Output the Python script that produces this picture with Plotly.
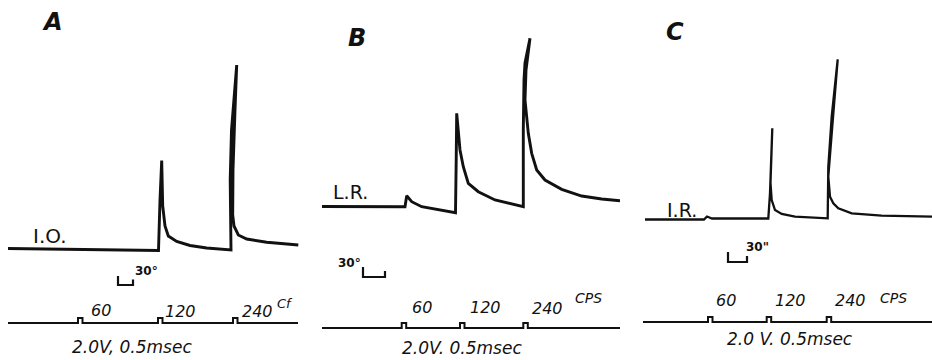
import plotly.graph_objects as go
from plotly.subplots import make_subplots

# ---------------- data (time in panel units, response relative to resting level) -------------
A_time = [8, 80, 158.5, 160, 161.7, 162.7, 165, 168.3, 176.7, 190, 206.7, 231, 230.2, 231.5, 234, 236.7,
          235, 233, 232.7, 234, 238.3, 246.7, 266.7, 298.3]
A_resp = [1.5, 0.8, -0.5, 50, 89.5, 44, 24, 14, 8.5, 4.5, 2, 0, 70, 120, 155, 185,
          140, 80, 35, 24, 15, 11, 7.7, 5]

B_time = [12, 95, 96.7, 101.7, 111.7, 128.3, 145.5, 146.2, 146.7, 150, 153.3, 158.3, 168.3, 185, 213.3,
          213.3, 214, 215, 220, 216, 215, 218.3, 221.7, 226.7, 235, 251.7, 271.7, 291.7, 310]
B_resp = [0.5, 0.3, 11.3, 5.3, 0.3, -3, -5.7, 47, 93.7, 57, 40.3, 23.7, 15.3, 7, 0.3,
          77, 127, 144, 168.7, 137, 107, 73.7, 53.7, 37, 27, 17.7, 11, 8, 6.3]

C_time = [25, 84, 87, 92, 120, 148.3, 150, 152.3, 150.5, 151.7, 155, 161.7, 175, 207.7, 208.3, 211.7,
          215, 217.7, 212, 208.3, 210, 213.3, 218.3, 231.7, 261.7, 312]
C_resp = [-0.5, -0.5, 2.5, 0.5, 0.5, 0.5, 25.7, 90.7, 36, 19, 9, 5, 2.3, 0.7, 52.3, 102.3,
          135.7, 159.7, 89, 42.3, 22.3, 15.7, 10.7, 5.7, 3.3, 2.3]

# stimulus trains: onsets of 60, 120, 240 cps
A_stim_onsets = [78, 158, 233]
B_stim_onsets = [91.7, 150, 213.3]
C_stim_onsets = [88, 146.7, 206.7]
stim_labels = ["60", "120", "240"]
panel_letters = ["A", "B", "C"]
trace_labels = ["I.O.", "L.R.", "I.R."]
stim_texts = ["2.0V, 0.5msec", "2.0V. 0.5msec", "2.0 V. 0.5msec"]
unit_texts = ["Cf", "CPS", "CPS"]
scale_texts = ["30°", "30°", "30\""]

# ---------------- layout constants -------------
INK = "#111111"
panels = [
    dict(t=A_time, r=A_resp, on=A_stim_onsets, span=(8, 298), xr=[0, 310], yr=[-110, 250],
         stim_y=-73, lw=2.9,
         letter=(52, 228), lab=(50, 14), lab_size=20,
         scale_txt=(146, -21), bar=(118, 133, -26, -35),
         sl=[(101, -60), (180, -61), (257, -61)], unit=(285, -53), st=(132, -97)),
    dict(t=B_time, r=B_resp, on=B_stim_onsets, span=(12, 310), xr=[0, 310], yr=[-153, 207],
         stim_y=-121, lw=2.9,
         letter=(47, 169), lab=(40, 15), lab_size=19,
         scale_txt=(39, -56), bar=(53, 75, -60, -70),
         sl=[(112, -100), (175, -100), (237, -101)], unit=(278, -91), st=(152, -141)),
    dict(t=C_time, r=C_resp, on=C_stim_onsets, span=(23, 312), xr=[0, 312], yr=[-141, 219],
         stim_y=-103, lw=2.3,
         letter=(55, 187), lab=(62, 9), lab_size=19,
         scale_txt=(137, -28), bar=(108, 127, -33, -43),
         sl=[(106, -81), (170, -81), (230, -81)], unit=(273, -79), st=(170, -120)),
]

fig = make_subplots(rows=1, cols=3, column_widths=[310, 310, 312], horizontal_spacing=0)

annotations = []
for i, p in enumerate(panels):
    col = i + 1
    xref = "x" if i == 0 else f"x{col}"
    yref = "y" if i == 0 else f"y{col}"
    # response trace
    fig.add_trace(go.Scatter(x=p["t"], y=p["r"], mode="lines",
                             line=dict(color=INK, width=p["lw"]), hoverinfo="skip"),
                  row=1, col=col)
    # stimulus trace built from onsets
    sx, sy = [p["span"][0]], [p["stim_y"]]
    for t in p["on"]:
        sx += [t, t, t + 4.5, t + 4.5]
        sy += [p["stim_y"], p["stim_y"] + 5, p["stim_y"] + 5, p["stim_y"]]
    sx.append(p["span"][1]); sy.append(p["stim_y"])
    fig.add_trace(go.Scatter(x=sx, y=sy, mode="lines",
                             line=dict(color=INK, width=2), hoverinfo="skip"),
                  row=1, col=col)
    # time scale bracket
    x0, x1, ytop, ybot = p["bar"]
    fig.add_trace(go.Scatter(x=[x0, x0, x1, x1], y=[ytop, ybot, ybot, ytop + (ybot - ytop) * 0.4],
                             mode="lines", line=dict(color=INK, width=2.2), hoverinfo="skip"),
                  row=1, col=col)

    def ann(text, pos, size, italic=False, bold=False):
        annotations.append(dict(text=text, x=pos[0], y=pos[1], xref=xref, yref=yref,
                                showarrow=False, xanchor="center", yanchor="middle",
                                font=dict(family="DejaVu Sans", size=size, color=INK,
                                          style="italic" if italic else "normal",
                                          weight="bold" if bold else "normal")))

    ann(panel_letters[i], p["letter"], 24, italic=True, bold=True)
    ann(trace_labels[i], p["lab"], p["lab_size"])
    ann(scale_texts[i], p["scale_txt"], 12, bold=True)
    for lbl, pos in zip(stim_labels, p["sl"]):
        ann(lbl, pos, 16, italic=True)
    ann(unit_texts[i], p["unit"], 14 if i else 13, italic=True)
    ann(stim_texts[i], p["st"], 17, italic=True)

    fig.update_xaxes(range=p["xr"], visible=False, row=1, col=col)
    fig.update_yaxes(range=p["yr"], visible=False, row=1, col=col)

fig.update_layout(width=932, height=360, margin=dict(l=0, r=0, t=0, b=0),
                  paper_bgcolor="white", plot_bgcolor="white", showlegend=False,
                  annotations=annotations)

fig.write_html("out.html", config={"displayModeBar": False},
               post_script="document.body.style.margin='0';")
